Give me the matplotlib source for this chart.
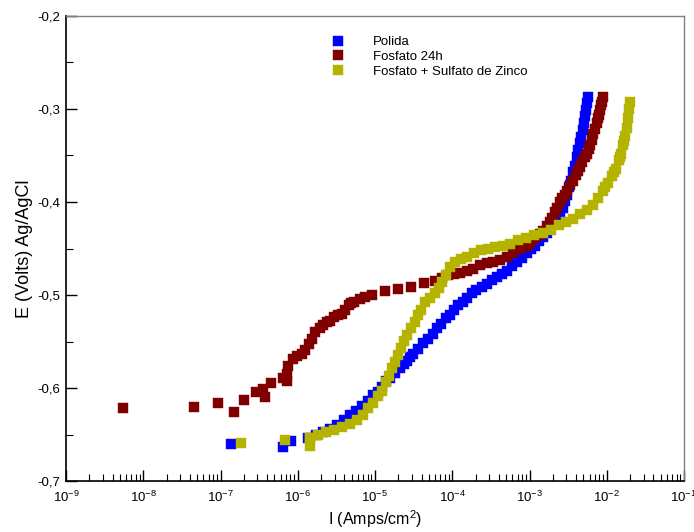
import math
import matplotlib
matplotlib.use("Agg")
import matplotlib.pyplot as plt
from matplotlib.ticker import FixedLocator, LogLocator, NullFormatter, FuncFormatter

plt.rcParams['font.family'] = ['Liberation Sans', 'DejaVu Sans']
plt.rcParams['mathtext.default'] = 'regular'

# Polarization curves: current density (A/cm2) and potential (V vs Ag/AgCl)
polida_i = [1.37e-7, 6.47e-7, 8.20e-7, 1.365e-6, 1.73e-6, 2.13e-6, 2.63e-6, 3.24e-6,
            3.99e-6, 4.78e-6, 5.70e-6, 6.82e-6, 8.17e-6, 9.48e-6, 1.10e-5, 1.24e-5,
            1.40e-5, 1.57e-5, 1.83e-5, 2.12e-5, 2.39e-5, 2.61e-5, 2.86e-5, 3.13e-5,
            3.63e-5, 4.21e-5, 4.89e-5, 5.68e-5, 6.40e-5, 7.19e-5, 8.36e-5, 9.42e-5,
            1.06e-4, 1.197e-4, 1.39e-4, 1.563e-4, 1.82e-4, 2.05e-4, 2.45e-4, 2.84e-4,
            3.30e-4, 3.83e-4, 4.45e-4, 5.15e-4, 5.98e-4, 6.95e-4, 8.07e-4, 9.35e-4,
            1.05e-3, 1.19e-3, 1.34e-3, 1.51e-3, 1.70e-3, 1.86e-3, 2.09e-3, 2.29e-3,
            2.51e-3, 2.74e-3, 2.90e-3, 3.08e-3, 3.27e-3, 3.48e-3, 3.69e-3, 3.92e-3,
            4.10e-3, 4.28e-3, 4.48e-3, 4.69e-3, 4.90e-3, 5.13e-3, 5.28e-3, 5.44e-3,
            5.61e-3, 5.78e-3]
polida_e = [-0.660, -0.663, -0.657, -0.654, -0.650, -0.647, -0.644, -0.640,
            -0.634, -0.629, -0.625, -0.619, -0.614, -0.608, -0.604, -0.599,
            -0.593, -0.589, -0.584, -0.578, -0.574, -0.571, -0.567, -0.563,
            -0.558, -0.552, -0.547, -0.542, -0.536, -0.531, -0.525, -0.521,
            -0.516, -0.511, -0.507, -0.503, -0.498, -0.495, -0.491, -0.488,
            -0.484, -0.481, -0.477, -0.474, -0.469, -0.465, -0.460, -0.455,
            -0.451, -0.447, -0.442, -0.438, -0.433, -0.428, -0.423, -0.418,
            -0.412, -0.406, -0.399, -0.393, -0.384, -0.377, -0.368, -0.361,
            -0.352, -0.344, -0.337, -0.330, -0.323, -0.315, -0.308, -0.301,
            -0.294, -0.287]

fosfato_i = [5.42e-9, 4.59e-8, 9.23e-8, 1.50e-7, 2.04e-7, 2.86e-7, 3.82e-7, 3.56e-7,
             4.49e-7, 6.40e-7, 7.23e-7, 7.23e-7, 7.59e-7, 8.79e-7, 9.82e-7, 1.13e-6,
             1.25e-6, 1.38e-6, 1.54e-6, 1.68e-6, 1.95e-6, 2.13e-6, 2.38e-6, 2.63e-6,
             2.96e-6, 3.33e-6, 3.72e-6, 4.11e-6, 4.54e-6, 4.92e-6, 5.38e-6, 6.43e-6,
             7.46e-6, 9.12e-6, 1.33e-5, 1.98e-5, 2.92e-5, 4.25e-5,
             6.03e-5, 7.41e-5, 8.87e-5, 1.06e-4, 1.27e-4, 1.56e-4, 1.87e-4, 2.31e-4,
             2.84e-4, 3.40e-4, 4.19e-4, 5.15e-4, 6.17e-4, 7.60e-4, 9.35e-4, 1.02e-3,
             1.12e-3, 1.26e-3, 1.38e-3, 1.51e-3, 1.70e-3, 1.86e-3, 1.97e-3, 2.16e-3,
             2.29e-3, 2.51e-3, 2.66e-3, 2.91e-3, 3.08e-3, 3.37e-3, 3.69e-3, 4.04e-3,
             4.28e-3, 4.55e-3, 4.83e-3, 5.28e-3, 5.61e-3, 5.96e-3, 6.14e-3, 6.50e-3,
             6.70e-3, 7.11e-3, 7.55e-3, 7.78e-3, 8.02e-3, 8.26e-3, 8.51e-3, 8.77e-3,
             9.04e-3]
fosfato_e = [-0.622, -0.620, -0.616, -0.626, -0.613, -0.604, -0.610, -0.601,
             -0.595, -0.589, -0.585, -0.592, -0.576, -0.569, -0.566, -0.563,
             -0.559, -0.553, -0.547, -0.540, -0.535, -0.532, -0.529, -0.528,
             -0.524, -0.522, -0.520, -0.516, -0.511, -0.509, -0.508, -0.504,
             -0.502, -0.500, -0.496, -0.494, -0.491, -0.487,
             -0.485, -0.482, -0.479, -0.477, -0.476, -0.474, -0.472, -0.468,
             -0.466, -0.464, -0.462, -0.459, -0.455, -0.451, -0.447, -0.444,
             -0.440, -0.437, -0.434, -0.431, -0.426, -0.421, -0.417, -0.411,
             -0.406, -0.400, -0.396, -0.392, -0.388, -0.382, -0.377, -0.371,
             -0.367, -0.362, -0.357, -0.352, -0.348, -0.343, -0.339, -0.333,
             -0.327, -0.321, -0.315, -0.310, -0.306, -0.301, -0.296, -0.292,
             -0.287]

zinco_i = [1.85e-7, 6.87e-7, 1.42e-6, 1.42e-6, 1.45e-6, 1.84e-6, 2.33e-6, 2.96e-6,
           3.76e-6, 4.78e-6, 5.87e-6, 7.03e-6, 8.17e-6, 9.48e-6, 1.10e-5, 1.24e-5,
           1.40e-5, 1.53e-5, 1.67e-5, 1.83e-5, 2.00e-5, 2.18e-5, 2.39e-5, 2.61e-5,
           2.94e-5, 3.32e-5, 3.63e-5, 3.96e-5, 4.47e-5, 5.19e-5, 6.03e-5, 6.79e-5,
           7.41e-5, 8.36e-5, 9.42e-5, 1.09e-4, 1.31e-4, 1.56e-4, 1.93e-4, 2.38e-4,
           2.92e-4, 3.61e-4, 4.58e-4, 5.64e-4, 7.16e-4, 9.10e-4, 1.15e-3, 1.51e-3,
           1.91e-3, 2.43e-3, 3.00e-3, 3.69e-3, 4.55e-3, 5.61e-3, 6.70e-3, 7.78e-3,
           9.04e-3, 9.60e-3, 1.05e-2, 1.18e-2, 1.25e-2, 1.33e-2, 1.46e-2, 1.50e-2,
           1.55e-2, 1.64e-2, 1.69e-2, 1.74e-2, 1.85e-2, 1.91e-2, 1.96e-2, 2.02e-2]
zinco_e = [-0.659, -0.656, -0.662, -0.654, -0.654, -0.650, -0.647, -0.645,
           -0.642, -0.639, -0.634, -0.629, -0.622, -0.616, -0.609, -0.603,
           -0.594, -0.587, -0.579, -0.572, -0.564, -0.557, -0.549, -0.543,
           -0.535, -0.529, -0.522, -0.516, -0.508, -0.503, -0.498, -0.493,
           -0.486, -0.478, -0.470, -0.465, -0.461, -0.459, -0.455, -0.452,
           -0.450, -0.448, -0.447, -0.445, -0.441, -0.439, -0.436, -0.433,
           -0.430, -0.425, -0.422, -0.418, -0.413, -0.409, -0.403, -0.396,
           -0.388, -0.384, -0.380, -0.372, -0.368, -0.364, -0.355, -0.352,
           -0.348, -0.339, -0.334, -0.329, -0.320, -0.310, -0.300, -0.292]

series_labels = ["Polida", "Fosfato 24h", "Fosfato + Sulfato de Zinco"]
series_colors = ["#0000ff", "#800000", "#b3b300"]

fig = plt.figure(figsize=(6.94, 5.32), dpi=100)
ax = fig.add_axes([66 / 694, 51 / 532, 618 / 694, 465 / 532])

for xs, ys, lab, col in zip([polida_i, fosfato_i, zinco_i],
                            [polida_e, fosfato_e, zinco_e],
                            series_labels, series_colors):
    ax.plot(xs, ys, linestyle="none", marker="s", markersize=7.2,
            markerfacecolor=col, markeredgecolor=col, markeredgewidth=0.3,
            label=lab)

ax.set_xscale("log")
ax.set_xlim(1e-9, 1e-1)
ax.set_ylim(-0.7, -0.2)

ax.xaxis.set_major_locator(LogLocator(base=10, numticks=20))
ax.xaxis.set_minor_locator(LogLocator(base=10, subs=range(2, 10), numticks=200))
ax.xaxis.set_minor_formatter(NullFormatter())
ax.xaxis.set_major_formatter(FuncFormatter(lambda v, p: r"$10^{%d}$" % round(math.log10(v))))

ax.yaxis.set_major_locator(FixedLocator([-0.7, -0.6, -0.5, -0.4, -0.3, -0.2]))
ax.yaxis.set_minor_locator(FixedLocator([-0.65, -0.55, -0.45, -0.35, -0.25]))
ax.yaxis.set_major_formatter(FuncFormatter(lambda v, p: ("%.1f" % v).replace(".", ",")))

ax.tick_params(axis="both", which="major", direction="in", length=8, width=1,
               labelsize=9.5, color="black", top=False, right=False)
ax.tick_params(axis="both", which="minor", direction="in", length=5, width=0.8,
               color="black", top=False, right=False)
ax.tick_params(axis="x", which="major", pad=6)
ax.tick_params(axis="y", which="major", pad=4)

for side in ["left", "bottom"]:
    ax.spines[side].set_color("black")
    ax.spines[side].set_linewidth(1.2)
for side in ["top", "right"]:
    ax.spines[side].set_color("#808080")
    ax.spines[side].set_linewidth(1.0)

ax.set_xlabel("I (Amps/cm$^2$)", fontsize=11.5, labelpad=3)
ax.set_ylabel("E (Volts) Ag/AgCl", fontsize=13, labelpad=3)

leg = ax.legend(loc="upper left", bbox_to_anchor=(0.414, 0.977), frameon=False,
                fontsize=9.5, handlelength=1.0, handletextpad=2.2,
                labelspacing=0.2, borderpad=0.2)

fig.savefig("out.png", dpi=100)
